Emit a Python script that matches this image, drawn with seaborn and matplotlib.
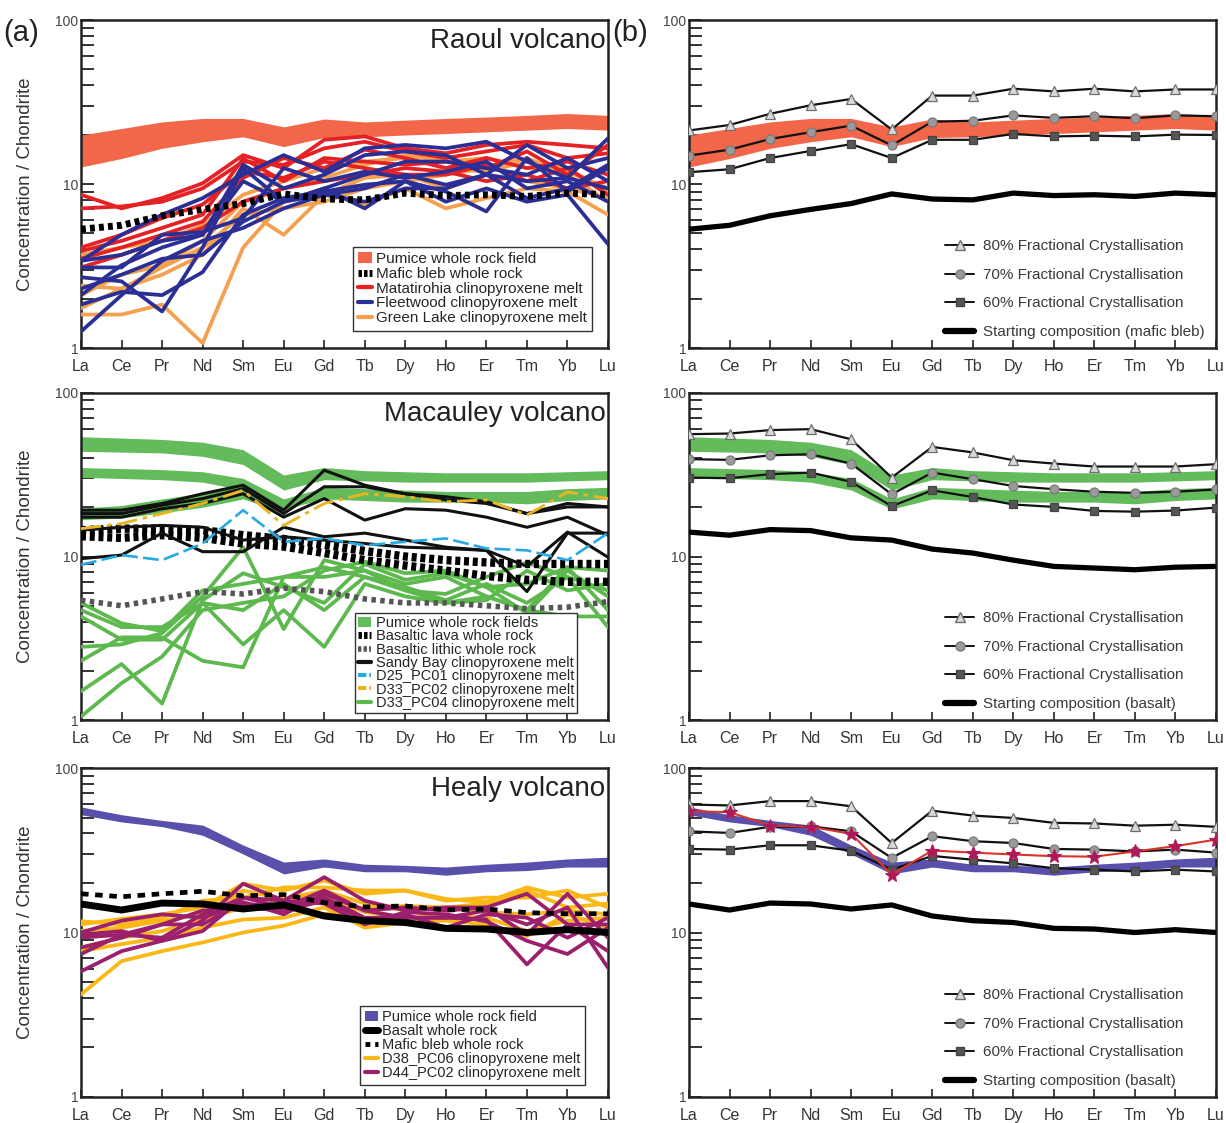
import numpy as np
import pandas as pd
import matplotlib
matplotlib.use('Agg')
import matplotlib.pyplot as plt
import seaborn as sns
from matplotlib.lines import Line2D
from matplotlib.patches import Patch
from matplotlib.ticker import LogLocator, FuncFormatter, NullFormatter

sns.set_style('ticks')
plt.rcParams['font.family'] = ['Liberation Sans', 'DejaVu Sans']

REE = ['La', 'Ce', 'Pr', 'Nd', 'Sm', 'Eu', 'Gd', 'Tb', 'Dy', 'Ho', 'Er', 'Tm', 'Yb', 'Lu']

# ---------------- Raoul ----------------
raoul_pumice_upper = [19.9, 21.8, 23.9, 25.1, 25.1, 22.3, 24.9, 23.9, 24.5, 25.1, 25.6, 26.2, 26.9, 26.2]
raoul_pumice_lower = [12.7, 14.3, 16.5, 18.1, 19.4, 16.9, 19.2, 19.4, 19.9, 20.3, 20.8, 21.3, 21.8, 21.3]
raoul_mafic_bleb = [5.3, 5.6, 6.4, 7.0, 7.6, 8.7, 8.1, 8.0, 8.8, 8.5, 8.6, 8.4, 8.8, 8.6]
raoul_matatirohia = [
    [8.6, 7.1, 8.2, 10.1, 15.0, 12.5, 18.6, 19.5, 16.5, 15.4, 17.3, 18.1, 17.3, 16.5],
    [7.1, 7.3, 7.8, 9.4, 13.7, 13.1, 16.5, 18.1, 15.8, 14.4, 15.8, 17.3, 14.4, 15.4],
    [3.9, 4.5, 5.4, 6.5, 14.3, 10.4, 14.4, 13.7, 13.1, 13.7, 12.5, 15.8, 11.4, 17.3],
    [3.5, 4.1, 4.9, 5.9, 10.9, 14.4, 12.5, 16.2, 14.4, 12.5, 14.4, 12.5, 13.7, 11.4],
    [4.1, 4.9, 6.2, 7.5, 11.9, 10.9, 13.7, 12.5, 11.4, 11.4, 13.1, 10.4, 12.5, 8.6],
    [3.1, 3.7, 4.5, 5.4, 7.8, 9.4, 10.4, 11.4, 12.5, 11.9, 10.4, 11.4, 9.4, 10.4],
]
raoul_fleetwood = [
    [3.4, 4.9, 6.5, 8.2, 11.4, 15.0, 11.9, 16.5, 17.3, 16.5, 18.1, 13.7, 10.9, 19.0],
    [2.1, 3.2, 4.1, 4.9, 13.1, 9.4, 11.4, 15.0, 15.8, 15.0, 11.4, 17.3, 12.5, 14.4],
    [1.26, 2.1, 3.4, 4.5, 5.4, 7.1, 8.6, 9.4, 11.4, 9.9, 11.4, 10.4, 10.9, 9.4],
    [1.84, 2.2, 2.1, 2.9, 6.5, 8.2, 9.0, 9.9, 10.4, 7.8, 9.4, 7.8, 8.6, 4.3],
    [2.7, 2.55, 1.67, 4.1, 12.5, 7.8, 9.4, 7.1, 10.4, 9.0, 6.8, 14.4, 9.0, 12.5],
    [3.4, 3.7, 4.5, 4.9, 10.4, 7.8, 9.4, 11.4, 13.7, 13.7, 12.5, 11.4, 14.4, 10.4],
    [2.3, 2.8, 3.5, 3.7, 5.9, 7.8, 8.6, 7.8, 9.4, 9.4, 11.4, 8.2, 9.4, 13.1],
    [3.1, 3.1, 4.9, 5.1, 6.2, 12.5, 10.4, 11.9, 10.9, 11.9, 13.7, 9.4, 10.4, 7.8],
]
raoul_green_lake = [
    [1.6, 1.6, 1.84, 1.07, 4.1, 7.8, 9.0, 7.5, 9.4, 7.1, 8.2, 9.4, 9.0, 6.5],
    [1.75, 2.3, 2.8, 3.7, 7.1, 4.9, 8.6, 10.9, 11.4, 9.4, 11.4, 10.4, 9.4, 8.2],
    [2.1, 2.8, 3.2, 4.5, 7.8, 9.4, 10.9, 13.1, 15.0, 13.7, 14.4, 12.5, 11.9, 9.4],
    [2.4, 2.3, 3.1, 4.1, 6.5, 7.1, 7.8, 9.4, 10.4, 11.4, 12.5, 14.4, 11.4, 7.8],
    [3.7, 4.1, 4.5, 5.6, 8.6, 10.4, 12.5, 13.7, 14.4, 12.5, 11.9, 13.7, 12.5, 9.0],
]
raoul_fc80 = [21.2, 22.9, 26.8, 30.2, 33.0, 21.5, 34.6, 34.6, 38.1, 36.7, 38.1, 36.7, 37.7, 37.7]
raoul_fc70 = [14.9, 16.2, 18.8, 20.7, 22.7, 17.2, 24.0, 24.3, 26.2, 25.3, 25.9, 25.2, 26.2, 25.9]
raoul_fc60 = [11.8, 12.3, 14.4, 15.9, 17.5, 14.4, 18.6, 18.6, 20.2, 19.5, 19.7, 19.5, 20.0, 19.9]

# ---------------- Macauley ----------------
mac_pumice1_upper = [54.0, 53.0, 52.0, 50.0, 45.0, 31.5, 35.0, 33.5, 33.0, 32.5, 32.5, 32.5, 33.0, 33.5]
mac_pumice1_lower = [44.0, 43.5, 43.0, 41.0, 36.5, 25.5, 29.5, 29.0, 28.5, 28.5, 28.5, 28.5, 29.0, 29.5]
mac_pumice2_upper = [35.0, 34.5, 34.0, 33.0, 30.0, 22.5, 26.5, 26.0, 25.5, 25.0, 25.0, 25.0, 26.0, 26.5]
mac_pumice2_lower = [30.5, 30.0, 29.5, 28.5, 25.5, 19.5, 22.5, 22.0, 21.5, 21.5, 21.5, 21.0, 22.0, 22.5]
mac_pumice3_upper = [19.8, 20.5, 22.5, 24.5, 27.0, 21.0]
mac_pumice3_lower = [16.8, 17.2, 18.5, 20.0, 22.5, 18.5]
mac_basaltic_lava = [
    [14.5, 14.8, 14.8, 14.5, 13.5, 12.8, 11.8, 10.8, 10.0, 9.5, 9.2, 9.0, 9.0, 9.0],
    [13.3, 13.0, 13.5, 13.0, 12.0, 11.5, 10.5, 9.5, 8.8, 8.2, 7.6, 7.2, 7.0, 7.0],
]
mac_basaltic_lithic = [5.4, 5.0, 5.5, 6.1, 5.9, 6.4, 6.1, 5.5, 5.2, 5.2, 5.0, 4.8, 4.9, 5.3]
mac_sandy_bay = [
    [19.2, 19.2, 21.1, 24.2, 27.3, 19.2, 33.7, 27.3, 24.2, 22.2, 21.1, 18.3, 21.1, 20.1],
    [18.3, 18.3, 20.6, 22.6, 26.0, 18.3, 26.7, 26.7, 24.2, 23.2, 21.6, 18.3, 20.1, 20.1],
    [17.4, 17.4, 19.6, 21.1, 24.2, 17.4, 22.6, 16.7, 19.6, 19.2, 17.4, 15.1, 17.4, 13.5],
    [9.7, 10.2, 13.9, 10.7, 10.7, 15.1, 13.2, 13.9, 12.6, 11.4, 10.9, 8.7, 14.1, 9.9],
    [14.5, 15.1, 15.5, 15.1, 12.6, 13.2, 12.6, 12.0, 11.4, 11.2, 10.9, 6.1, 13.9, 13.9],
]
mac_d25_pc01 = [8.9, 10.2, 9.5, 12.0, 19.2, 12.3, 12.9, 11.7, 12.3, 12.9, 11.2, 10.9, 9.5, 13.9]
mac_d33_pc02 = [14.8, 15.9, 18.3, 21.1, 25.4, 15.5, 21.1, 24.2, 23.2, 21.6, 22.2, 17.9, 24.8, 22.6]
mac_d33_pc04 = [
    [1.05, 1.68, 2.44, 4.7, 5.2, 5.7, 8.2, 9.3, 7.9, 8.2, 6.5, 6.8, 8.6, 8.2],
    [1.5, 2.2, 1.26, 5.4, 7.9, 6.5, 5.2, 9.0, 7.2, 7.9, 6.5, 4.5, 8.2, 5.7],
    [2.3, 3.2, 3.2, 2.3, 2.1, 7.5, 7.5, 8.2, 6.2, 5.9, 7.5, 9.2, 7.5, 6.2],
    [4.7, 3.7, 3.7, 5.2, 4.7, 6.8, 4.7, 7.5, 6.5, 5.4, 6.8, 5.2, 7.5, 3.7],
    [4.3, 3.1, 3.1, 5.2, 2.9, 4.7, 2.8, 6.8, 5.7, 5.2, 5.7, 4.7, 4.3, 4.3],
    [2.8, 2.9, 3.4, 5.7, 11.4, 3.6, 9.5, 8.2, 6.8, 7.5, 5.7, 4.7, 8.6, 4.7],
    [5.2, 3.9, 3.5, 6.2, 6.8, 7.5, 8.6, 7.5, 6.2, 5.2, 5.4, 8.2, 6.2, 6.8],
]
mac_start_basalt = [14.1, 13.5, 14.6, 14.4, 13.0, 12.6, 11.1, 10.5, 9.5, 8.7, 8.5, 8.3, 8.6, 8.7]
mac_fc80 = [56.0, 56.5, 59.3, 60.1, 52.1, 30.4, 46.8, 43.3, 38.8, 37.0, 35.5, 35.5, 35.5, 36.7]
mac_fc70 = [39.4, 39.0, 41.6, 42.2, 37.0, 24.0, 32.6, 29.7, 27.0, 25.8, 24.9, 24.5, 24.9, 25.7]
mac_fc60 = [30.4, 30.1, 31.9, 32.6, 28.6, 20.3, 25.4, 23.1, 20.8, 20.1, 19.0, 18.8, 19.1, 19.9]

# ---------------- Healy ----------------
healy_pumice_upper = [58.0, 52.0, 48.0, 45.0, 34.0, 26.8, 28.0, 26.0, 25.6, 25.0, 26.0, 26.8, 28.0, 28.7]
healy_pumice_lower = [52.0, 47.0, 44.0, 39.0, 30.0, 22.7, 25.0, 23.4, 23.4, 22.3, 23.4, 23.8, 25.0, 25.0]
healy_basalt = [14.9, 13.7, 15.1, 14.9, 13.9, 14.7, 12.6, 11.8, 11.5, 10.6, 10.5, 10.0, 10.4, 10.0]
healy_mafic_bleb = [17.2, 16.5, 17.2, 17.8, 16.7, 17.0, 15.2, 14.3, 14.5, 13.7, 13.9, 13.2, 13.0, 13.0]
healy_d38_pc06 = [
    [4.2, 6.7, 7.7, 8.7, 10.0, 11.0, 12.9, 14.2, 14.5, 14.2, 13.3, 12.9, 13.6, 12.9],
    [11.2, 12.1, 12.9, 14.2, 19.8, 18.0, 20.7, 17.2, 18.0, 16.0, 15.3, 18.8, 16.3, 17.2],
    [10.2, 10.7, 11.8, 12.9, 18.0, 16.0, 18.0, 15.0, 13.6, 14.2, 15.0, 18.0, 14.2, 15.0],
    [8.1, 9.3, 10.2, 12.0, 14.2, 15.6, 16.7, 13.3, 12.3, 12.6, 12.3, 10.2, 11.8, 12.3],
    [7.7, 8.5, 9.3, 10.7, 12.0, 12.3, 14.2, 10.7, 11.5, 11.8, 11.2, 9.5, 12.9, 10.7],
    [11.7, 11.2, 12.3, 15.6, 16.3, 18.8, 18.8, 18.0, 18.0, 15.6, 16.3, 16.3, 18.0, 14.2],
]
healy_d44_pc02 = [
    [5.8, 7.7, 8.9, 11.8, 19.8, 15.6, 21.7, 15.6, 13.6, 14.2, 14.2, 17.2, 11.2, 11.2],
    [9.7, 10.2, 8.9, 10.2, 16.3, 14.2, 18.0, 13.6, 14.2, 13.6, 14.2, 9.7, 17.2, 9.3],
    [8.1, 9.3, 11.2, 13.6, 14.2, 13.6, 15.6, 12.0, 12.9, 10.7, 12.9, 12.3, 9.3, 12.3],
    [10.0, 11.8, 12.9, 12.3, 15.0, 14.2, 16.3, 12.3, 12.3, 12.3, 12.0, 6.4, 11.2, 7.7],
    [7.4, 9.7, 9.3, 12.9, 16.3, 15.6, 15.0, 11.2, 13.3, 12.9, 11.7, 8.9, 7.4, 10.7],
    [9.3, 9.7, 11.2, 11.2, 15.3, 12.9, 17.2, 13.6, 12.3, 12.3, 13.6, 11.2, 14.2, 6.1],
]
healy_fc80 = [60.0, 59.2, 62.9, 62.9, 58.5, 35.0, 55.0, 51.4, 49.7, 46.4, 46.0, 44.6, 45.2, 43.9]
healy_fc70 = [41.2, 40.3, 43.9, 44.2, 41.2, 28.4, 38.5, 35.9, 35.0, 32.2, 31.9, 31.1, 31.9, 30.6]
healy_fc60 = [32.2, 31.9, 33.9, 33.9, 31.4, 24.1, 29.2, 27.7, 26.3, 24.6, 24.1, 23.5, 24.1, 23.5]
healy_model_melt = [54.6, 53.9, 44.7, 43.9, 39.8, 22.5, 31.5, 30.6, 29.8, 29.1, 28.9, 31.1, 33.5, 36.7]

# ---------------- colours ----------------
C_RAOUL_FIELD = '#F26649'
C_RED = '#E52125'
C_BLUE = '#2B2F95'
C_ORANGE = '#F5A04E'
C_GREEN_FIELD = '#63BB5C'
C_GREEN = '#5DB84E'
C_CYAN = '#27AAE1'
C_GOLD = '#E9B522'
C_HEALY_FIELD = '#5850AA'
C_YELLOW = '#F9B817'
C_PURPLE = '#9C1F6C'


def long_df(series_list):
    rows = []
    for i, vals in enumerate(series_list):
        for j, v in enumerate(vals):
            rows.append((i, REE[j], j, v))
    return pd.DataFrame(rows, columns=['sample', 'element', 'pos', 'value'])


def draw_lines(ax, series_list, color, lw, ls='-', zorder=3, alpha=1.0):
    df = long_df(series_list)
    sns.lineplot(data=df, x='pos', y='value', units='sample', estimator=None,
                 color=color, lw=lw, linestyle=ls, ax=ax, legend=False,
                 zorder=zorder, alpha=alpha, sort=False)


def draw_band(ax, upper, lower, color, zorder=2):
    x = np.arange(len(upper))
    ax.fill_between(x, lower, upper, color=color, lw=0, zorder=zorder)


def draw_fc(ax, fc80, fc70, fc60, start):
    draw_lines(ax, [start], 'black', 3.8, zorder=5)
    sns.lineplot(data=long_df([fc80]), x='pos', y='value', ax=ax, color='#111111', lw=1.6,
                 marker='^', markersize=7, markerfacecolor='#D8D8D8',
                 markeredgecolor='#6E6E6E', markeredgewidth=0.9, legend=False, zorder=6)
    sns.lineplot(data=long_df([fc70]), x='pos', y='value', ax=ax, color='#111111', lw=1.6,
                 marker='o', markersize=6.5, markerfacecolor='#9A9A9A',
                 markeredgecolor='#7A7A7A', markeredgewidth=0.9, legend=False, zorder=6)
    sns.lineplot(data=long_df([fc60]), x='pos', y='value', ax=ax, color='#111111', lw=1.6,
                 marker='s', markersize=6, markerfacecolor='#555555',
                 markeredgecolor='#444444', markeredgewidth=0.9, legend=False, zorder=6)


def fc_legend(ax, start_label):
    handles = [
        Line2D([], [], color='#111111', lw=1.4, marker='^', markersize=7,
               markerfacecolor='#D8D8D8', markeredgecolor='#6E6E6E'),
        Line2D([], [], color='#111111', lw=1.4, marker='o', markersize=6.5,
               markerfacecolor='#9A9A9A', markeredgecolor='#7A7A7A'),
        Line2D([], [], color='#111111', lw=1.4, marker='s', markersize=6,
               markerfacecolor='#555555', markeredgecolor='#444444'),
        Line2D([], [], color='black', lw=4.5),
    ]
    labels = ['80% Fractional Crystallisation', '70% Fractional Crystallisation',
              '60% Fractional Crystallisation', start_label]
    leg = ax.legend(handles, labels, loc='lower left', bbox_to_anchor=(0.466, -0.005),
                    frameon=False, fontsize=11, labelspacing=0.95, handlelength=1.9,
                    handletextpad=0.6, borderaxespad=0.3)
    for t in leg.get_texts():
        t.set_color('#3A3A3A')


def setup(ax):
    ax.set_yscale('log')
    ax.set_ylim(1, 100)
    ax.set_xlim(0, 13)
    ax.set_xticks(range(len(REE)))
    ax.set_xticklabels(REE)
    ax.yaxis.set_major_locator(LogLocator(base=10, numticks=5))
    ax.yaxis.set_major_formatter(FuncFormatter(lambda v, p: f'{v:g}'))
    ax.yaxis.set_minor_locator(LogLocator(base=10, subs=range(2, 10), numticks=10))
    ax.yaxis.set_minor_formatter(NullFormatter())
    ax.tick_params(axis='y', which='both', direction='in', length=9, width=1.3,
                   labelsize=10, labelcolor='#444444', pad=2, color='#222222')
    ax.tick_params(axis='x', which='both', direction='in', length=6, width=1.2,
                   labelsize=11.5, labelcolor='#333333', pad=8, color='#222222')
    ax.tick_params(axis='x', which='minor', bottom=False)
    for s in ax.spines.values():
        s.set_linewidth(1.8)
        s.set_color('#222222')


W, H = 1226, 1123
fig = plt.figure(figsize=(W / 100, H / 100), dpi=100)
xl, xr, aw = 81 / W, 689 / W, 527 / W
rows = [(20, 348), (393, 720), (768, 1097)]
axes = []
for top, bot in rows:
    y0 = 1 - bot / H
    h = (bot - top) / H
    axes.append((fig.add_axes([xl, y0, aw, h]), fig.add_axes([xr, y0, aw, h])))

LW = 2.7

# ---------- (a) Raoul ----------
ax = axes[0][0]
setup(ax)
draw_band(ax, raoul_pumice_upper, raoul_pumice_lower, C_RAOUL_FIELD)
draw_lines(ax, raoul_green_lake, C_ORANGE, LW, zorder=3)
draw_lines(ax, raoul_matatirohia, C_RED, LW, zorder=3)
draw_lines(ax, raoul_fleetwood, C_BLUE, LW, zorder=4)
draw_lines(ax, [raoul_mafic_bleb], 'black', 5, ls=(0, (0.7, 0.6)), zorder=5)
ax.text(0.995, 0.975, 'Raoul volcano', transform=ax.transAxes, ha='right', va='top',
        fontsize=20, color='#222222')
h = [Patch(facecolor=C_RAOUL_FIELD, edgecolor='none'),
     Line2D([], [], color='black', lw=5, ls=(0, (0.5, 0.3))),
     Line2D([], [], color=C_RED, lw=3),
     Line2D([], [], color=C_BLUE, lw=3),
     Line2D([], [], color=C_ORANGE, lw=3)]
lab = ['Pumice whole rock field', 'Mafic bleb whole rock', 'Matatirohia clinopyroxene melt',
       'Fleetwood clinopyroxene melt', 'Green Lake clinopyroxene melt']
leg = ax.legend(h, lab, loc='lower right', bbox_to_anchor=(0.985, 0.03), fontsize=11,
                frameon=True, fancybox=False, edgecolor='#333333', framealpha=1,
                handlelength=0.9, handletextpad=0.3, labelspacing=0.05, borderpad=0.35)
leg.get_frame().set_linewidth(1.0)

# ---------- (b) Raoul model ----------
ax = axes[0][1]
setup(ax)
draw_band(ax, raoul_pumice_upper, raoul_pumice_lower, C_RAOUL_FIELD)
draw_fc(ax, raoul_fc80, raoul_fc70, raoul_fc60, raoul_mafic_bleb)
fc_legend(ax, 'Starting composition (mafic bleb)')

# ---------- Macauley ----------
ax = axes[1][0]
setup(ax)
draw_band(ax, mac_pumice1_upper, mac_pumice1_lower, C_GREEN_FIELD)
draw_band(ax, mac_pumice2_upper, mac_pumice2_lower, C_GREEN_FIELD)
draw_band(ax, mac_pumice3_upper, mac_pumice3_lower, C_GREEN_FIELD)
draw_lines(ax, mac_d33_pc04, C_GREEN, LW, zorder=3)
draw_lines(ax, mac_basaltic_lava, 'black', 6, ls=(0, (0.6, 0.45)), zorder=4)
draw_lines(ax, [mac_basaltic_lithic], '#555555', 4, ls=(0, (0.8, 0.8)), zorder=4)
draw_lines(ax, mac_sandy_bay, '#111111', 2.2, zorder=5)
draw_lines(ax, [mac_d25_pc01], C_CYAN, 1.9, ls=(0, (6, 2)), zorder=5)
draw_lines(ax, [mac_d33_pc02], C_GOLD, 2.1, ls=(0, (7, 2, 1.5, 2)), zorder=6)
ax.text(0.995, 0.975, 'Macauley volcano', transform=ax.transAxes, ha='right', va='top',
        fontsize=20, color='#222222')
h = [Patch(facecolor=C_GREEN_FIELD, edgecolor='none'),
     Line2D([], [], color='black', lw=5, ls=(0, (0.5, 0.3))),
     Line2D([], [], color='#555555', lw=4, ls=(0, (0.6, 0.4))),
     Line2D([], [], color='#111111', lw=3),
     Line2D([], [], color=C_CYAN, lw=3, ls=(0, (2, 0.7))),
     Line2D([], [], color=C_GOLD, lw=3, ls=(0, (2, 0.7))),
     Line2D([], [], color=C_GREEN, lw=3)]
lab = ['Pumice whole rock fields', 'Basaltic lava whole rock', 'Basaltic lithic whole rock',
       'Sandy Bay clinopyroxene melt', 'D25_PC01 clinopyroxene melt',
       'D33_PC02 clinopyroxene melt', 'D33_PC04 clinopyroxene melt']
leg = ax.legend(h, lab, loc='lower right', bbox_to_anchor=(0.955, 0.0), fontsize=10.5,
                frameon=True, fancybox=False, edgecolor='#333333', framealpha=1,
                handlelength=0.9, handletextpad=0.3, labelspacing=-0.05, borderpad=0.2)
leg.get_frame().set_linewidth(1.0)

ax = axes[1][1]
setup(ax)
draw_band(ax, mac_pumice1_upper, mac_pumice1_lower, C_GREEN_FIELD)
draw_band(ax, mac_pumice2_upper, mac_pumice2_lower, C_GREEN_FIELD)
draw_fc(ax, mac_fc80, mac_fc70, mac_fc60, mac_start_basalt)
fc_legend(ax, 'Starting composition (basalt)')

# ---------- Healy ----------
ax = axes[2][0]
setup(ax)
draw_band(ax, healy_pumice_upper, healy_pumice_lower, C_HEALY_FIELD)
draw_lines(ax, healy_d38_pc06, C_YELLOW, LW, zorder=3)
draw_lines(ax, healy_d44_pc02, C_PURPLE, LW, zorder=4)
draw_lines(ax, [healy_mafic_bleb], 'black', 3.4, ls=(0, (1.6, 1.4)), zorder=5)
draw_lines(ax, [healy_basalt], 'black', 5, zorder=5)
ax.text(0.995, 0.975, 'Healy volcano', transform=ax.transAxes, ha='right', va='top',
        fontsize=20, color='#222222')
h = [Patch(facecolor=C_HEALY_FIELD, edgecolor='none'),
     Line2D([], [], color='black', lw=5),
     Line2D([], [], color='black', lw=3.5, ls=(0, (1, 1))),
     Line2D([], [], color=C_YELLOW, lw=3),
     Line2D([], [], color=C_PURPLE, lw=3)]
lab = ['Pumice whole rock field', 'Basalt whole rock', 'Mafic bleb whole rock',
       'D38_PC06 clinopyroxene melt', 'D44_PC02 clinopyroxene melt']
leg = ax.legend(h, lab, loc='lower right', bbox_to_anchor=(0.97, 0.015), fontsize=10.5,
                frameon=True, fancybox=False, edgecolor='#333333', framealpha=1,
                handlelength=0.9, handletextpad=0.3, labelspacing=0.0, borderpad=0.3)
leg.get_frame().set_linewidth(1.0)

ax = axes[2][1]
setup(ax)
draw_band(ax, healy_pumice_upper, healy_pumice_lower, C_HEALY_FIELD)
draw_fc(ax, healy_fc80, healy_fc70, healy_fc60, healy_basalt)
sns.lineplot(data=long_df([healy_model_melt]), x='pos', y='value', ax=ax, color='#D8342A',
             lw=1.5, marker='*', markersize=10, markerfacecolor='#B0185A',
             markeredgecolor='#B0185A', legend=False, zorder=7)
fc_legend(ax, 'Starting composition (basalt)')

# labels (after seaborn, which sets its own)
for left_ax, right_ax in axes:
    left_ax.set_xlabel('')
    right_ax.set_xlabel('')
    right_ax.set_ylabel('')
    left_ax.set_ylabel('Concentration / Chondrite', fontsize=13.5, color='#333333', labelpad=15)

fig.text(3 / W, 1 - 33 / H, '(a)', fontsize=21, color='#222222', va='center')
fig.text(612 / W, 1 - 33 / H, '(b)', fontsize=21, color='#222222', va='center')

fig.savefig('out.png', dpi=100)
